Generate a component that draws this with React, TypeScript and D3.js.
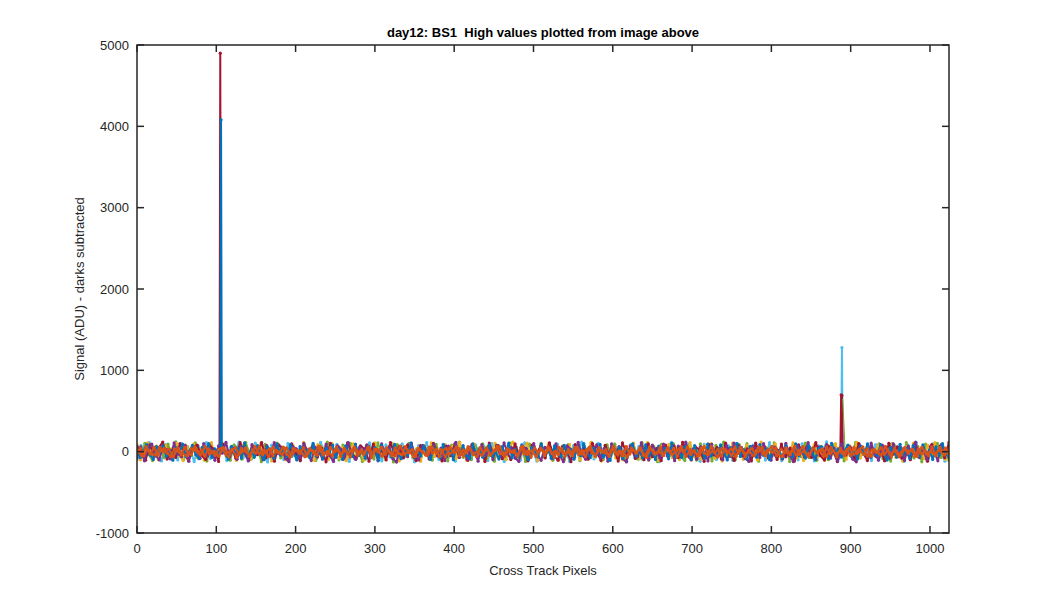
import React from 'react'
import * as d3 from 'd3'

// noise rows (ADU), each evenly spread over the 1024 cross-track pixels
const blueNoise = [34,-72,15,88,-41,-95,60,-8,73,-56,22,-104,47,-19,91,-63,5,78,-37,-86,52,-12,99,-70,28,-45,83,-3,-92,66,-25,41,-79,108,-50,17,-67,74,-31,-98,57,9,-83,95,-44,30,-61,86,-15,-102,63,-38,20,-76,101,-55,12,-89,45,-6,80,-69,36,-94,71,-27,-58,93,-48,3,-81,65,-20,48,-107,77,-35,25,-64,90,-10,-87,54,-42,106,-73,18,-52,69,-29,-96,43,7,-78,87,-60,32,-99,59,-16,75,-47,-84,97,-23,39,-68,14,82,-53,-1,-91,62,-34,104,-75,26,-57,85,-18,-100,50,11,-65,94,-43,37,-82,70,-9,-59,79,-30,23,-93,61,-49,98,-14,-74,44,-39,89,-66,6,-105,72,-26,53,-85,31,-11,96,-54,19,-77,84,-46,-2,-97,67,-33,40,-88,103,-62,16,-71,58,-21,-94,76,-40,29,-80,92,-51,8,-63,81,-17,-101,49,-36,100,-58,24,-90,64,-7,-70,87,-44,33,-98,55,-28,13,-86,73,-13,-61,95,-50,21,-79,68,-4,-92,42,58,-37,-83,102,-24,35,-67,10,79,-56,-5,-89,65,-31,97,-72,27,-47,86,-19,-103,51,4,-68,91,-41,38,-84,74,-12,-55,83,-29,18,-95,60,-45,99,-22,-76]
const orangeNoise = [-12,38,-51,24,-30,57,-43,10,41,-22,-60,33,8,-40,52,-15,-35,61,-11,19,-55,36,-4,-47,28,45,-26,-64,14,50,-34,2,46,-58,23,-18,63,-39,6,34,-49,17,-9,56,-30,-66,41,12,-23,48,-53,27,3,-44,59,-14,-37,51,-5,20,-59,42,-27,9,57,-46,18,-13,47,-68,31,-1,54,-32,13,-52,45,-20,-38,62,-10,25,-57,36,-3,-43,55,-17,32,-63,15,40,-29,4,60,-50,21,-8,44,-35,-61,49,-19,29,-45,11,65,-24,-41,37,-7,16,-54,53,-28,7,-67,43,-12,30,-48,58,-21,1,-36,39,-56,26,-9,52,-33,14,-62,46,-16,-42,50,-2,24,-58,35,-25,6,-51,61,-31,19,-15,48,-44,-69,38,0,-22,55,-47,28,-11,42,-60,22,-6,57,-34,12,-53,44,-18,-39,64,-13,27,-55,33,-1,-45,59,-20,35,-65,17,41,-30,5,53,-49,23,-10,46,-37,-58,47,-17,31,-42,9,62,-27,-38,40,-4,18,-52,56,-26,8,-64,45,-14,29,-50,54,-23,3,-35,37,-59,25,-7,51,-32,15,-61,44,-19,-41,49,-3,21,-56,36,-28,11,-48,58,-34,20,-16,43,-46]
const orangeNoise2 = [25,-48,61,-17,-39,54,-6,33,-62,44,-21,-52,38,12,-44,66,-29,5,-57,49,-13,31,-68,40,-2,-46,58,-25,18,-60,53,-10,-36,47,-54,21,9,-63,36,-19,64,-41,2,-50,57,-28,15,-66,42,-7,-34,60,-23,29,-56,46,-15,-43,68,-31,8,-59,39,-4,-48,55,-20,26,-65,51,-12,37,-53,63,-27,-1,-45,48,-38,17,59,-58,22,-9,-42,65,-33,11,-61,43,-16,34,-67,52,-24,-3,-49,56,-30,19,62,-55,27,-11,-40,67,-37,6,-64,45,-18,32,-51,58,-26,3,-47,50,-35,14,61,-57,24,-8,-44,63,-32,10,-66,41,-14,36,-60,54,-22,-5,-52,57,-29,20,65,-53,28,-12,-38,64,-36,7,-62,47,-17,35,-58,51,-25,1,-50,49,-33,16,60,-54,23,-10,-43,66,-34,13,-63,42,-19,30,-56,55,-28,4,-46,53,-39,18]
const yellowNoise = [88,-102,-31,109,-66,54,-97,20,79,-84,40,101,-50,-110,67,-15,93,-73,33,-106,60,112,-41,-88,26,98,-70,47,-108,13,83,-59,-95,71,-24,105,-85,44,-115,57,91,-36,-101,29,75,-90,-10,114,-54,35,-107,86,-20,62,-96,103,-46,-80,49,-111,23,95,-63,38,-104,78,-31,109,-72,10,-92,68,100,-44,-113,55,-17,89,-77,41,-118,74,-34,107,-60,18,-99,84,-49,63,-87,115,-26,-105,46,92,-68,31,-112,72,-13,102,-82,51,-94,65,119,-39,-75,25,106,-57,36,-109,80,-23,97,-91,42,-103,70,-32,87,-61,14,-98,57,-28,110,-67,30,-116,77,-43,94,-79,20,-100,66,-14,104,-53,-86,39,111,-65,27,-107,61,-8,90,-74,45,-97,81,-35,113,-58,16,-89,73,-21,99,-83,37,-114,64,-45,106,-62,22,-95,82,-30,58,-101,118,-40,-70,34,96,-51,-92,48,-19,108,-81,28,-110,69,-11,87,-64,43,-103,76,-37,100,-55,12,-93,71,-25,114,-78,32,-99,59,-47,85,-16,-108,53,95,-69,24,-117,63,-33,104,-60,19,-86,79,-42,110,-72,7,-96,50]
const purpleNoise = [-77,58,-112,35,93,-46,-101,66,22,-90,107,-29,-62,80,-118,43,13,-83,99,-53,30,-106,70,-18,114,-66,40,-94,61,-11,-115,86,-38,26,-98,75,-56,110,-21,48,-85,-123,64,34,-74,102,-32,-109,56,15,-91,94,-50,-120,72,29,-67,112,-42,-96,53,-16,83,-78,38,-113,97,-24,59,-88,-128,67,19,-61,105,-37,-102,77,5,-82,91,-51,45,-110,69,-27,116,-70,32,-93,58,-8,-117,88,-43,24,-99,78,-57,108,-22,50,-80,-121,62,37,-75,100,-34,-107,54,16,-86,96,-48,-124,73,27,-69,115,-40,-94,51,-14,85,-77,41,-118,95,-25,63,-87,-126,70,21,-64,109,-36,-103,80,3,-79,93,-54,47,-111,68,-30,119,-68,35,-92,60,-9,-114,90,-45,25,-100,73,-58,104,-19,52,-84,-119,66,39,-72,98,-31,-105,57,12,-89,101,-47,-122,76,30,-65,113,-39,-97,55,-13,87,-76,44,-116,92,-26,65,-91,-125,71,18,-63,106,-35,-104,82,2,-80,97,-52,49,-108,67,-28,117,-71,36,-95,62,-6,-112,89,-41,20]
const greenNoise = [48,-88,102,-35,-110,69,17,-75,93,-58,120,-22,-99,62,-45,107,-81,32,-116,74,8,-64,97,-53,-105,83,38,-92,112,-30,-72,59,-123,90,21,-54,104,-78,43,-113,67,-13,-96,94,-41,53,-108,77,-26,118,-67,29,-102,82,-48,99,-85,14,-120,70,45,-91,109,-37,-77,58,-126,88,26,-59,101,-74,35,-112,66,-8,-104,91,-46,56,-115,80,-19,117,-70,34,-98,85,-43,96,-86,11,-118,75,40,-94,106,-32,-80,61,-121,93,22,-62,103,-69,42,-107,72,-16,-101,87,-50,51,-111,79,-27,114,-65,30,-97,84,-39,92,-89,7,-119,73,44,-93,110,-33,-82,64,-124,89,25,-57,100,-72,37,-109,68,-12,-103,95,-44,54,-114,78,-23,119,-68,31,-100,86,-40,98,-84,13,-117,71,47,-90,108,-36,-79,60,-122,91,19,-61,105,-73,39,-106,65,-18,-99,88,-51,55,-112,81,-25,116,-63,28,-95,83,-42,97,-87,9,-116,76,41,-96,111,-34,-78,63,-125,92,24,-56,102,-71,36,-110]
const lightBlueNoise = [-96,77,-43,113,-69,24,-115,88,-14,61,-102,99,-50,32,-123,70,-22,110,-83,41,-64,93,-109,53,-8,118,-74,19,-93,105,-37,66,-126,80,-27,48,-99,101,-58,13,-112,85,-34,72,-88,115,-18,45,-106,91,-54,30,-120,75,-5,58,-94,109,-40,22,-114,83,-67,62,-104,96,-29,37,-125,74,-13,112,-78,50,-97,90,-46,27,-117,104,-61,16,-91,82,-32,69,-110,98,-53,38,-122,78,-20,56,-101,107,-42,10,-116,87,-70,64,-96,94,-24,43,-119,76,-9,117,-81,47,-89,102,-48,28,-108,92,-35,21,-113,86,-72,65,-98,100,-25,40,-124,79,-11,115,-76,52,-92,97,-49,33,-118,89,-57,18,-95,84,-30,71,-107,103,-51,35,-121,81,-17,59,-103,110,-44,14,-111,93,-66,60,-100,96,-21,46,-114,73,-6,120,-84,49,-87,106,-45,26,-105,94,-38,23,-109,88,-68,63,-93,99,-28,42,-120,77,-15,111,-79,54,-90,95,-52,31,-117,85]
const darkRedNoise = [66,-32,-105,85,-61,43,118,-91,14,-72,99,-19,-114,58,80,-46,-96,70,29,-121,91,-53,37,-80,110,-13,-102,62,-38,113,-75,21,-117,77,50,-88,96,-27,-109,67,-3,86,-66,42,-125,101,-35,56,-94,107,-16,-83,72,32,-118,93,-58,18,-101,112,-43,61,-78,83,-24,-110,74,46,-91,102,-6,-115,66,-50,98,-69,26,-106,90,-30,53,-120,106,-40,75,-86,11,-97,95,-59,38,-112,80,-20,69,-77,109,-48,-104,59,22,-123,88,-34,48,-93,100,-11,-107,78,-55,35,-116,108,-26,62,-84,5,-99,97,-62,40,-111,81,-15,71,-73,115,-44,-101,57,25,-119,92,-37,51,-90,104,-9,-108,76,-52,34,-114,105,-29,65,-81,8,-96,94,-64,44,-117,84,-18,68,-71,112,-47,-103,63,20,-122,89,-41,55,-87,99,-14,-110,73,-57,31,-113,103,-31,60,-79,4,-98,92,-67,47,-118,87,-22,73,-74,116]

// short hits: [pixel, ADU]
const blueSpike = [[105, 15], [106, 4080], [107, 10]]
const darkRedSpike1 = [[104, 5], [105, 4900], [106, 20]]
const lightBlueSpike = [[888, 20], [889, 1280], [890, 5]]
const darkRedSpike2 = [[887, 10], [888, 700], [889, 690], [890, 0]]
const greenSpike = [[890, 650], [893, 20]]

const xTicks = [0, 100, 200, 300, 400, 500, 600, 700, 800, 900, 1000]
const yTicks = [-1000, 0, 1000, 2000, 3000, 4000, 5000]

const series = [
  { color: '#4DBEEE', noise: lightBlueNoise, spikes: [lightBlueSpike] },
  { color: '#77AC30', noise: greenNoise, spikes: [] },
  { color: '#EDB120', noise: yellowNoise, spikes: [] },
  { color: '#A2142F', noise: darkRedNoise, spikes: [darkRedSpike1, darkRedSpike2] },
  { color: '#7E2F8E', noise: purpleNoise, spikes: [] },
  { color: '#77AC30', noise: [], spikes: [greenSpike] },
  { color: '#0072BD', noise: blueNoise, spikes: [blueSpike] },
  { color: '#D95319', noise: orangeNoise2, spikes: [] },
  { color: '#D95319', noise: orangeNoise, spikes: [] },
]

const W = 1050
const H = 600
const left = 137
const right = 949
const top = 45
const bottom = 533
const font = 'Liberation Sans, Arial, Helvetica, sans-serif'
const axisColor = '#262626'

export default function App() {
  const x = d3.scaleLinear().domain([0, 1024]).range([left, right])
  const y = d3.scaleLinear().domain([-1000, 5000]).range([bottom, top])
  const line = d3.line<number[]>().x(d => x(d[0])).y(d => y(d[1]))

  const pts = (s: typeof series[0]) => {
    const n = s.noise.length
    let p = s.noise.map((v, i) => [(i * 1024) / (n - 1), v])
    s.spikes.forEach(sp => {
      const lo = sp[0][0], hi = sp[sp.length - 1][0]
      p = p.filter(d => d[0] < lo || d[0] > hi).concat(sp)
    })
    return p.sort((a, b) => a[0] - b[0])
  }

  const tl = 7

  return (
    <div style={{ position: 'fixed', left: 0, top: 0 }}>
      <svg width={W} height={H} style={{ display: 'block', background: '#fff' }}>
        <defs>
          <clipPath id="plotclip">
            <rect x={left} y={top} width={right - left} height={bottom - top} />
          </clipPath>
        </defs>
        <g clipPath="url(#plotclip)">
          {series.map((s, i) => {
            const p = pts(s)
            const thin = s.noise.length === 0
            return (
              <g key={i}>
                <path d={line(p) || ''} fill="none" stroke={s.color} strokeWidth={thin ? 1 : 2} strokeLinejoin="round" />
                {!thin && p.map((d, j) => (
                  <circle key={j} cx={x(d[0])} cy={y(d[1])} r={1.6} fill={s.color} />
                ))}
              </g>
            )
          })}
        </g>

        {/* box + ticks */}
        <rect x={left} y={top} width={right - left} height={bottom - top} fill="none" stroke={axisColor} strokeWidth={1.5} />
        {xTicks.map(t => (
          <g key={'x' + t}>
            <line x1={x(t)} x2={x(t)} y1={bottom} y2={bottom - tl} stroke={axisColor} strokeWidth={1.5} />
            <line x1={x(t)} x2={x(t)} y1={top} y2={top + tl} stroke={axisColor} strokeWidth={1.5} />
            <text x={x(t)} y={553} textAnchor="middle" fontFamily={font} fontSize={13} fill={axisColor}>{t}</text>
          </g>
        ))}
        {yTicks.map(t => (
          <g key={'y' + t}>
            <line x1={left} x2={left + tl} y1={y(t)} y2={y(t)} stroke={axisColor} strokeWidth={1.5} />
            <line x1={right} x2={right - tl} y1={y(t)} y2={y(t)} stroke={axisColor} strokeWidth={1.5} />
            <text x={129} y={y(t) + 4.5} textAnchor="end" fontFamily={font} fontSize={13} fill={axisColor}>{t}</text>
          </g>
        ))}

        <text x={(left + right) / 2} y={37} textAnchor="middle" fontFamily={font} fontSize={13} fontWeight="bold" fill="#000" style={{ whiteSpace: 'pre' }}>
          {'day12: BS1  High values plotted from image above'}
        </text>
        <text x={(left + right) / 2} y={575} textAnchor="middle" fontFamily={font} fontSize={13} fill={axisColor}>
          Cross Track Pixels
        </text>
        <text transform={`translate(84, ${(top + bottom) / 2}) rotate(-90)`} textAnchor="middle" fontFamily={font} fontSize={13} fill={axisColor}>
          Signal (ADU) - darks subtracted
        </text>
      </svg>
    </div>
  )
}
